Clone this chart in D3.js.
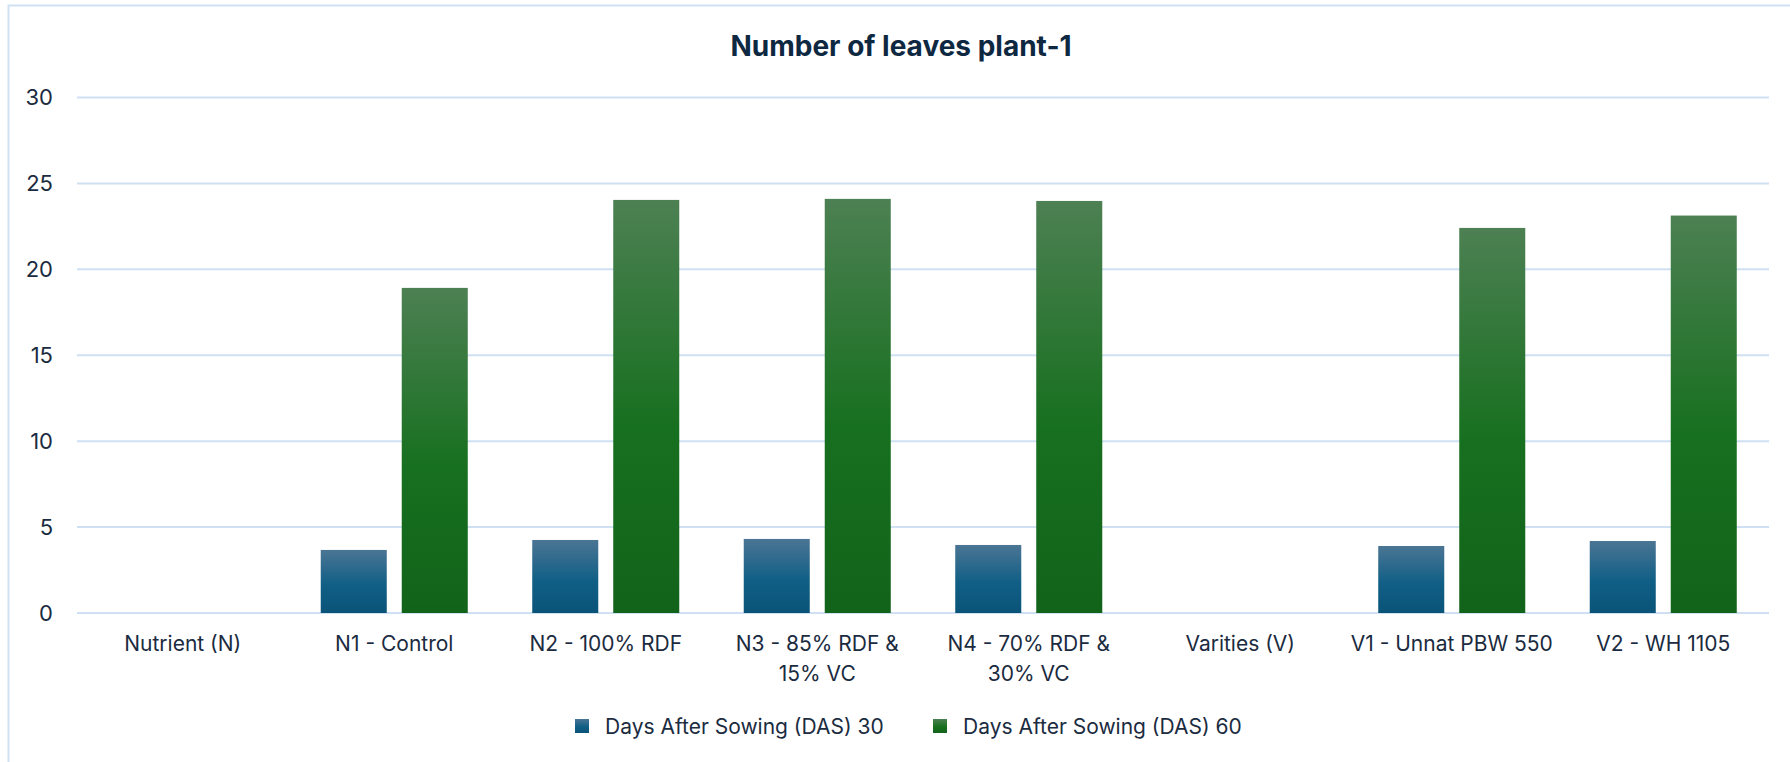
<!DOCTYPE html>
<html>
<head>
<meta charset="utf-8">
<script src="https://cdn.jsdelivr.net/npm/d3@7/dist/d3.min.js"></script>
<style>
  html, body { margin: 0; padding: 0; background: #fff; }
  svg { display: block; font-family: Inter, "Open Sans", sans-serif; }
</style>
</head>
<body>
<div id="chart"></div>
<script>
const categories = [
  ["Nutrient (N)"],
  ["N1 - Control"],
  ["N2 - 100% RDF"],
  ["N3 - 85% RDF &", "15% VC"],
  ["N4 - 70% RDF &", "30% VC"],
  ["Varities (V)"],
  ["V1 - Unnat PBW 550"],
  ["V2 - WH 1105"]
];
const seriesNames = ["Days After Sowing (DAS) 30", "Days After Sowing (DAS) 60"];
const das30 = [null, 3.67, 4.25, 4.31, 3.96, null, 3.90, 4.19];
const das60 = [null, 18.92, 24.04, 24.10, 23.98, null, 22.41, 23.13];
const yTicks = [0, 5, 10, 15, 20, 25, 30];
const title = "Number of leaves plant-1";

const W = 1790, H = 762;
const plot = { left: 77, right: 1769, top: 97.5, bottom: 613 };
const textColor = "#1b2b40";
const gridColor = "#cfe0f3";

const svg = d3.select("#chart").append("svg")
  .attr("width", W)
  .attr("height", H);

// gradients for the two series
const defs = svg.append("defs");
const grads = [
  { id: "g30", stops: [["0%", "#4b7594"], ["55%", "#115f86"], ["100%", "#0a5378"]] },
  { id: "g60", stops: [["0%", "#4d8053"], ["55%", "#17701f"], ["100%", "#12631a"]] }
];
grads.forEach(g => {
  const lg = defs.append("linearGradient")
    .attr("id", g.id)
    .attr("x1", 0).attr("y1", 0).attr("x2", 0).attr("y2", 1);
  g.stops.forEach(s => lg.append("stop").attr("offset", s[0]).attr("stop-color", s[1]));
});

// outer chart border
svg.append("rect")
  .attr("x", 8.5).attr("y", 5.5)
  .attr("width", W + 20).attr("height", H + 20)
  .attr("fill", "#fff")
  .attr("stroke", "#d0e1f4")
  .attr("stroke-width", 2);

const keys = categories.map((c, i) => i);

const x0 = d3.scaleBand()
  .domain(keys)
  .range([plot.left, plot.right]);

const x1 = d3.scaleBand()
  .domain([0, 1])
  .range([0, x0.bandwidth()])
  .paddingInner(0.185)
  .paddingOuter(0.398);

const y = d3.scaleLinear()
  .domain([0, 30])
  .range([plot.bottom, plot.top]);

// gridlines
svg.append("g")
  .selectAll("line")
  .data(yTicks)
  .join("line")
  .attr("x1", plot.left)
  .attr("x2", plot.right)
  .attr("y1", d => y(d))
  .attr("y2", d => y(d))
  .attr("stroke", gridColor)
  .attr("stroke-width", 2);

// y axis labels
svg.append("g")
  .selectAll("text")
  .data(yTicks)
  .join("text")
  .attr("x", 53)
  .attr("y", d => y(d))
  .attr("dy", "0.36em")
  .attr("text-anchor", "end")
  .attr("font-size", 22)
  .attr("fill", textColor)
  .text(d => d);

// bars
const seriesData = [das30, das60];
const bars = svg.append("g");
seriesData.forEach((vals, s) => {
  bars.append("g")
    .selectAll("rect")
    .data(vals.map((v, i) => ({ i, v })).filter(d => d.v != null))
    .join("rect")
    .attr("x", d => x0(d.i) + x1(s))
    .attr("width", x1.bandwidth())
    .attr("y", d => y(d.v))
    .attr("height", d => y(0) - y(d.v))
    .attr("fill", `url(#${grads[s].id})`);
});

// category labels
const xl = svg.append("g");
categories.forEach((lines, i) => {
  const t = xl.append("text")
    .attr("x", x0(i) + x0.bandwidth() / 2)
    .attr("y", 651)
    .attr("text-anchor", "middle")
    .attr("font-size", 21)
    .attr("fill", textColor);
  lines.forEach((ln, k) => {
    t.append("tspan")
      .attr("x", x0(i) + x0.bandwidth() / 2)
      .attr("dy", k === 0 ? 0 : 30)
      .text(ln);
  });
});

// title
svg.append("text")
  .attr("x", 901)
  .attr("y", 56)
  .attr("text-anchor", "middle")
  .attr("font-size", 28)
  .attr("font-weight", "bold")
  .attr("fill", "#0e2841")
  .text(title);

// legend
const legendX = [575, 933];
const leg = svg.append("g");
seriesNames.forEach((name, s) => {
  leg.append("rect")
    .attr("x", legendX[s])
    .attr("y", 719)
    .attr("width", 14)
    .attr("height", 14)
    .attr("fill", `url(#${grads[s].id})`);
  leg.append("text")
    .attr("x", legendX[s] + 30)
    .attr("y", 726)
    .attr("dy", "0.36em")
    .attr("font-size", 21)
    .attr("fill", textColor)
    .text(name);
});
</script>
</body>
</html>
